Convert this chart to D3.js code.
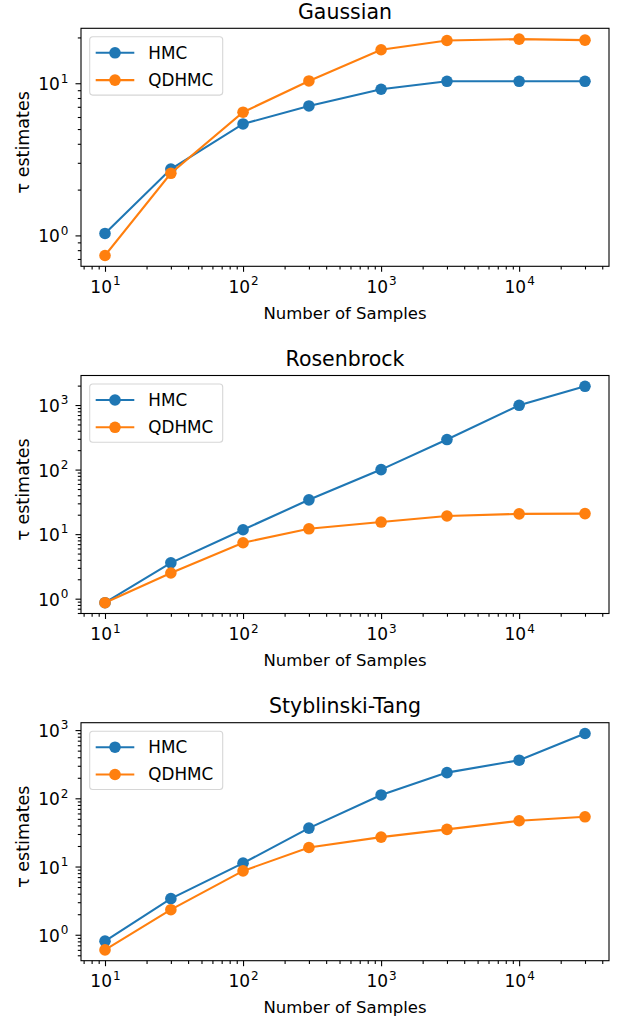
<!DOCTYPE html>
<html>
<head>
<meta charset="utf-8">
<script src="https://cdn.jsdelivr.net/npm/d3@7"></script>
<style>
  body { margin: 0; background: #fff; }
  text { font-family: "DejaVu Sans", sans-serif; fill: #000; }
</style>
</head>
<body>
<svg id="chart"></svg>
<script>
const samples = [10, 30, 100, 300, 1000, 3000, 10000, 30000];

const titles = ['Gaussian', 'Rosenbrock', 'Styblinski-Tang'];
const seriesNames = ['HMC', 'QDHMC'];
const colors = ['#1f77b4', '#ff7f0e'];

const gaussHMC = [1.03, 2.73, 5.40, 7.09, 9.13, 10.3, 10.3, 10.3];
const gaussQDHMC = [0.738, 2.56, 6.45, 10.35, 16.6, 19.1, 19.5, 19.2];
const rosenHMC = [0.867, 3.59, 11.7, 34, 100, 292, 990, 1950];
const rosenQDHMC = [0.867, 2.5, 7.35, 12.1, 15.4, 19.1, 20.6, 20.8];
const styHMC = [0.805, 3.38, 11.2, 36.6, 112, 238, 362, 891];
const styQDHMC = [0.60, 2.33, 8.63, 19.0, 27, 35, 46.9, 53.6];

const panels = [
    [gaussHMC, gaussQDHMC],
    [rosenHMC, rosenQDHMC],
    [styHMC, styQDHMC]
];

const W = 632, H = 1023;
const left = 81, right = 609;
const panelH = 238;
const firstTop = 28.3, stride = 347.2;
const fs = 16.5;

const svg = d3.select('#chart').attr('width', W).attr('height', H);

// matplotlib style autoscale: 5% margin in log space
function logDomain(values) {
    const lo = Math.log10(d3.min(values)), hi = Math.log10(d3.max(values));
    const m = (hi - lo) * 0.05;
    return [Math.pow(10, lo - m), Math.pow(10, hi + m)];
}

function minorTicks(domain) {
    const out = [];
    const k0 = Math.floor(Math.log10(domain[0])), k1 = Math.ceil(Math.log10(domain[1]));
    for (let k = k0; k <= k1; k++) {
        for (let m = 2; m <= 9; m++) {
            const v = m * Math.pow(10, k);
            if (v >= domain[0] && v <= domain[1]) out.push(v);
        }
    }
    return out;
}

function majorTicks(domain) {
    const out = [];
    for (let k = Math.ceil(Math.log10(domain[0]) - 1e-9); k <= Math.floor(Math.log10(domain[1]) + 1e-9); k++) {
        out.push(Math.pow(10, k));
    }
    return out;
}

function powLabel(sel) {
    sel.each(function(d) {
        const t = d3.select(this);
        const e = Math.round(Math.log10(d));
        t.text(null);
        t.append('tspan').text('10');
        t.append('tspan').attr('dx', 1).attr('dy', -7.7).attr('font-size', 12).text(e);
    });
}

const x = d3.scaleLog().domain(logDomain(samples)).range([left, right]);

panels.forEach((series, pi) => {
    const top = firstTop + pi * stride;
    const bottom = top + panelH;
    const y = d3.scaleLog().domain(logDomain(series.flat())).range([bottom, top]);
    const g = svg.append('g');

    // minor ticks
    const xAxisMinor = d3.axisBottom(x).tickValues(minorTicks(x.domain())).tickSize(3.2).tickFormat('');
    g.append('g').attr('transform', `translate(0,${bottom})`).call(xAxisMinor).call(a => a.select('.domain').remove());
    const yAxisMinor = d3.axisLeft(y).tickValues(minorTicks(y.domain())).tickSize(3.2).tickFormat('');
    g.append('g').attr('transform', `translate(${left},0)`).call(yAxisMinor).call(a => a.select('.domain').remove());

    // major ticks
    const xAxis = d3.axisBottom(x).tickValues(majorTicks(x.domain())).tickSize(5.5);
    const xa = g.append('g').attr('transform', `translate(0,${bottom})`).call(xAxis);
    xa.select('.domain').remove();
    xa.selectAll('.tick text').attr('y', 26.7).attr('dy', null).attr('font-size', 17).call(powLabel);

    const yAxis = d3.axisLeft(y).tickValues(majorTicks(y.domain())).tickSize(5.5);
    const ya = g.append('g').attr('transform', `translate(${left},0)`).call(yAxis);
    ya.select('.domain').remove();
    ya.selectAll('.tick text').attr('x', -12.5).attr('dy', 6.5).attr('font-size', 17).call(powLabel);

    g.selectAll('.tick line').attr('stroke', '#000').attr('stroke-width', 1.1);
    g.selectAll('.tick text').style('font-family', '"DejaVu Sans", sans-serif').attr('fill', '#000');

    // lines and markers
    const line = d3.line().x((d, i) => x(samples[i])).y(d => y(d));
    series.forEach((vals, si) => {
        g.append('path').datum(vals)
            .attr('d', line)
            .attr('fill', 'none')
            .attr('stroke', colors[si])
            .attr('stroke-width', 2.1);
        g.selectAll(null).data(vals).enter().append('circle')
            .attr('cx', (d, i) => x(samples[i]))
            .attr('cy', d => y(d))
            .attr('r', 5.8)
            .attr('fill', colors[si]);
    });

    // frame
    g.append('rect')
        .attr('x', left).attr('y', top)
        .attr('width', right - left).attr('height', panelH)
        .attr('fill', 'none').attr('stroke', '#000').attr('stroke-width', 1.1);

    // title and labels
    g.append('text').attr('x', (left + right) / 2).attr('y', top - 9.5)
        .attr('text-anchor', 'middle').attr('font-size', 20.5).text(titles[pi]);
    g.append('text').attr('x', (left + right) / 2).attr('y', bottom + 52.3)
        .attr('text-anchor', 'middle').attr('font-size', fs).text('Number of Samples');
    g.append('text')
        .attr('transform', `translate(28.5,${top + panelH / 2 - 5}) rotate(-90)`)
        .attr('text-anchor', 'middle').attr('font-size', 17.5).text('τ estimates');

    // legend
    const lg = g.append('g').attr('transform', `translate(${left + 8.7},${top + 8.5})`);
    lg.append('rect').attr('width', 133).attr('height', 58.3).attr('rx', 3)
        .attr('fill', '#fff').attr('fill-opacity', 0.8)
        .attr('stroke', '#d6d6d6').attr('stroke-width', 1.1);
    seriesNames.forEach((name, si) => {
        const ly = 16 + si * 27.3;
        lg.append('line').attr('x1', 6).attr('x2', 44.6).attr('y1', ly).attr('y2', ly)
            .attr('stroke', colors[si]).attr('stroke-width', 2.1);
        lg.append('circle').attr('cx', 25.3).attr('cy', ly).attr('r', 5.8).attr('fill', colors[si]);
        lg.append('text').attr('x', 58.6).attr('y', ly + 6).attr('font-size', 16.8).text(name);
    });
});
</script>
</body>
</html>
